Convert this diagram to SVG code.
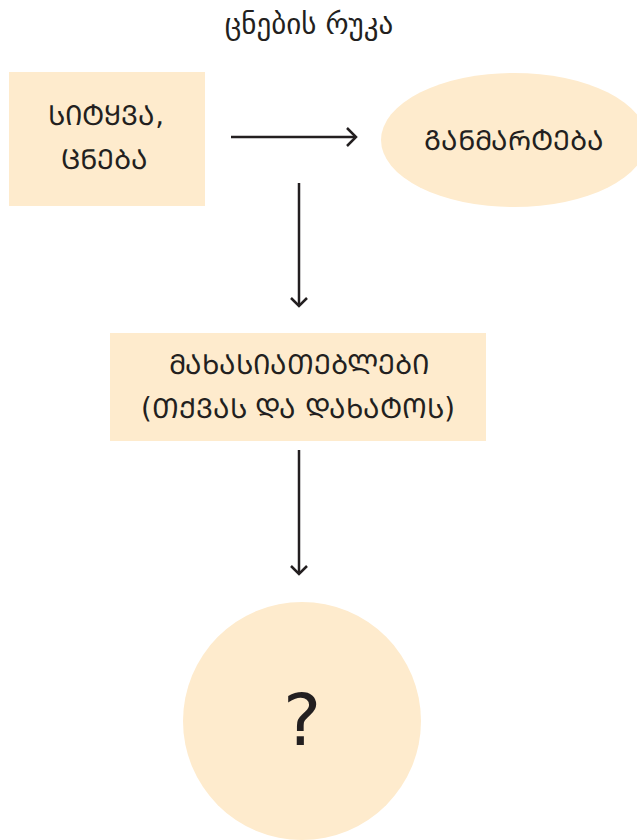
<svg xmlns="http://www.w3.org/2000/svg" width="637" height="840" viewBox="0 0 637 840">
<style>
.shape{fill:#FEEBCD;stroke:none}
.t{font-family:"DejaVu Sans","Noto Sans",sans-serif;fill:#231f20;text-anchor:middle}
.big{font-size:27.5px}
.conn{stroke:#231f20;stroke-width:2.5;fill:none}
.head{stroke:#231f20;stroke-width:2.5;fill:none;stroke-linecap:butt;stroke-linejoin:miter}
</style>
<rect width="637" height="840" fill="#ffffff"/>
<g id="title"><text class="t" x="309" y="34" font-size="29">ცნების რუკა</text></g>
<g id="node-word">
<rect class="shape" x="9" y="72" width="196" height="134"/>
<text class="t big" x="106" y="125">ᲡᲘᲢᲧᲕᲐ,</text>
<text class="t big" x="104" y="169">ᲪᲜᲔᲑᲐ</text>
</g>
<g id="node-definition">
<ellipse class="shape" cx="514" cy="140" rx="133" ry="67"/>
<text class="t big" x="514" y="150">ᲒᲐᲜᲛᲐᲠᲢᲔᲑᲐ</text>
</g>
<g id="node-features">
<rect class="shape" x="110" y="333" width="376" height="108"/>
<text class="t big" x="299" y="374">ᲛᲐᲮᲐᲡᲘᲐᲗᲔᲑᲚᲔᲑᲘ</text>
<text class="t big" x="298" y="418">(ᲗᲥᲕᲐᲡ ᲓᲐ ᲓᲐᲮᲐᲢᲝᲡ)</text>
</g>
<g id="node-question">
<circle class="shape" cx="302" cy="721" r="119"/>
<text class="t" x="302" y="745" font-size="72" font-family="'Liberation Sans',sans-serif">?</text>
</g>
<g id="connectors">
<line class="conn" x1="231" y1="137" x2="356" y2="137"/>
<polyline class="head" points="347,128 356,137 347,146"/>
<line class="conn" x1="299" y1="183" x2="299" y2="306"/>
<polyline class="head" points="291,298 299,306 307,298"/>
<line class="conn" x1="299" y1="450" x2="299" y2="574"/>
<polyline class="head" points="291,566 299,574 307,566"/>
</g>
</svg>
